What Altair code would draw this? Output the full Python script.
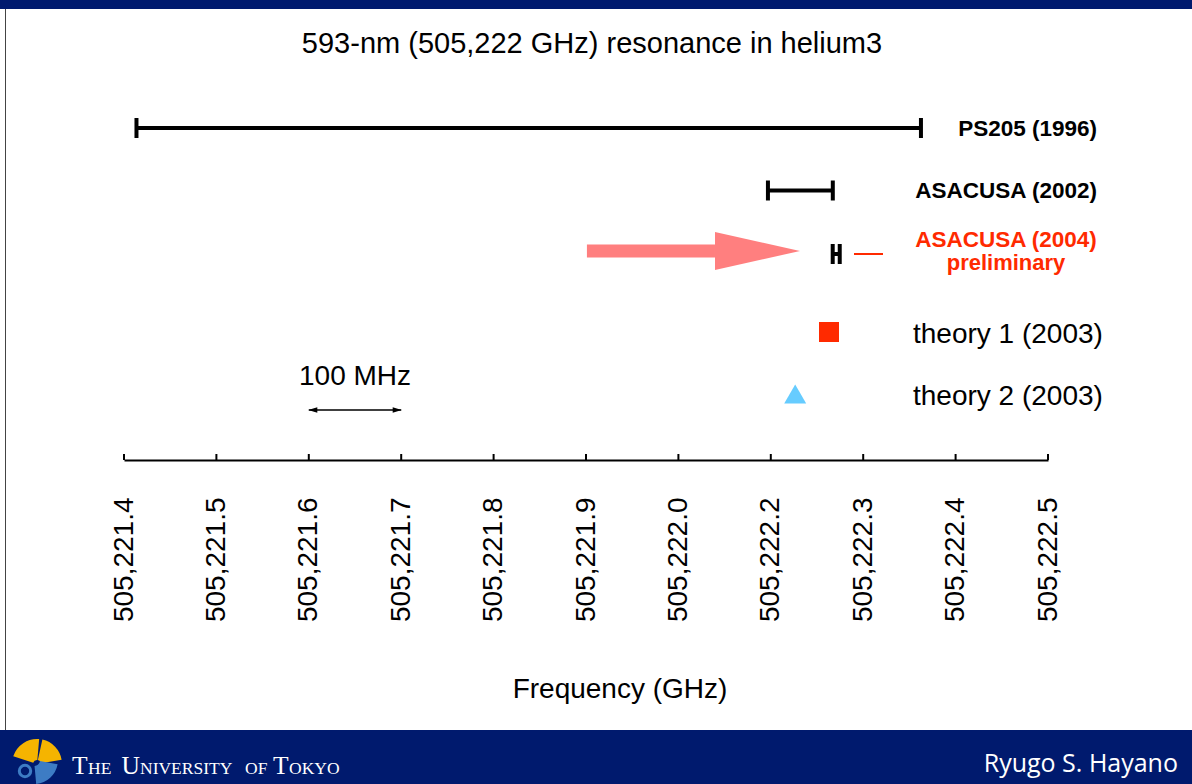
import json

import altair as alt
import pandas as pd

# ---------------------------------------------------------------------------
# Frequency axis: one tick every 100 MHz, labelled as printed on the slide
# ---------------------------------------------------------------------------
tick_mhz = [0, 100, 200, 300, 400, 500, 600, 700, 800, 900, 1000]  # MHz above 505,221.4 GHz
tick_labels = [
    "505,221.4", "505,221.5", "505,221.6", "505,221.7", "505,221.8", "505,221.9",
    "505,222.0", "505,222.2", "505,222.3", "505,222.4", "505,222.5",
]

# ---------------------------------------------------------------------------
# Results, top to bottom (MHz above 505,221.4 GHz)
# ---------------------------------------------------------------------------
rows = ["PS205 (1996)", "ASACUSA (2002)", "ASACUSA (2004)", "theory 1 (2003)", "theory 2 (2003)"]
centre_mhz = [438.0, 732.0, 770.8, 763.0, 726.4]
error_mhz = [424.5, 35.1, 3.8, 0.0, 0.0]

# annotation arrow pointing at the 2004 result, and the 100 MHz scale bar
arrow_tail_mhz = 501.0
arrow_tip_mhz = 731.6
scale_bar_mhz = [200, 300]

SANS = "Liberation Sans"
SERIF = "Liberation Serif"
NAVY = "#001a6e"
RED = "#ff2a00"
PINK = "#ff7f7f"
CYAN = "#66ccff"
GOLD = "#f5b400"
BLUE = "#3d7cc4"

table = pd.DataFrame({"row": list(range(len(rows))), "name": rows,
                      "centre": centre_mhz, "err": error_mhz})
table["lo"] = table["centre"] - table["err"]
table["hi"] = table["centre"] + table["err"]
measured = table.iloc[:3]
ONE = pd.DataFrame({"k": [0]})

x_scale = alt.Scale(domain=[0, 1000], range=[124, 1048], nice=False, zero=False)
y_scale = alt.Scale(domain=[0, 1, 2, 3, 4], range=[128, 190.5, 254, 332, 394],
                    nice=False, zero=False)

label_expr = f"{json.dumps(tick_labels)}[round(datum.value / 100)]"
x_axis = alt.Axis(
    values=tick_mhz, labelExpr=label_expr, labelAngle=270, labelFont=SANS,
    labelFontSize=28, labelColor="black", labelPadding=37, labelOverlap=False,
    labelFlush=False, ticks=False, tickSize=0, domainColor="black",
    domainWidth=2, grid=False, title=None,
)


def X(field):
    return alt.X(f"{field}:Q", scale=x_scale, axis=x_axis)


Y = alt.Y("row:Q", scale=y_scale, axis=None)

# ---------------------------------------------------------------------------
# Slide frame: banners, side rule, footer
# ---------------------------------------------------------------------------
top_banner = alt.Chart(ONE).mark_rect(color=NAVY).encode(
    x=alt.value(0), x2=alt.value(1192), y=alt.value(0), y2=alt.value(9))
bottom_banner = alt.Chart(ONE).mark_rect(color=NAVY).encode(
    x=alt.value(0), x2=alt.value(1192), y=alt.value(730), y2=alt.value(784))
side_rule = alt.Chart(ONE).mark_rule(color="#444444", strokeWidth=1).encode(
    x=alt.value(5.5), y=alt.value(9), y2=alt.value(730))

# ginkgo-leaf emblem: golden fan with a notch, blue lower lobe and ring
leaf_left = alt.Chart(ONE).mark_arc(color=GOLD, radius=25, radius2=4,
                                    theta=5.03, theta2=6.37).encode(
    x=alt.value(37), y=alt.value(764))
leaf_right = alt.Chart(ONE).mark_arc(color=GOLD, radius=25, radius2=4,
                                     theta=6.50, theta2=7.68).encode(
    x=alt.value(37), y=alt.value(764))
leaf_blue = alt.Chart(ONE).mark_arc(color=BLUE, radius=24, radius2=6,
                                    theta=1.75, theta2=3.05).encode(
    x=alt.value(34), y=alt.value(760))
leaf_ring = alt.Chart(ONE).mark_point(shape="circle", size=130, filled=False,
                                      color=BLUE, strokeWidth=3, opacity=1).encode(
    x=alt.value(25), y=alt.value(771))

# small-capital wordmark: (text, left edge, font size)
wordmark = [("T", 72, 25.5), ("HE", 88, 17.5), ("U", 121.5, 25.5), ("NIVERSITY", 140, 17.5),
            ("OF", 245, 17.5), ("T", 273, 25.5), ("OKYO", 289, 17.5)]
wordmark_layers = [
    alt.Chart(ONE).mark_text(text=t, align="left", baseline="alphabetic", font=SERIF,
                             fontSize=s, color="white").encode(
        x=alt.value(x0), y=alt.value(774))
    for t, x0, s in wordmark
]
author = alt.Chart(ONE).mark_text(text="Ryugo S. Hayano", align="right", baseline="alphabetic",
                                  font="Open Sans", fontSize=25, color="white").encode(
    x=alt.value(1178), y=alt.value(772))

# ---------------------------------------------------------------------------
# Titles
# ---------------------------------------------------------------------------
title = alt.Chart(ONE).mark_text(text="593-nm (505,222 GHz) resonance in helium3",
                                 align="center", baseline="alphabetic", font=SANS,
                                 fontSize=29, color="black").encode(
    x=alt.value(592), y=alt.value(53))
x_title = alt.Chart(ONE).mark_text(text="Frequency (GHz)", align="center",
                                   baseline="alphabetic", font=SANS, fontSize=28,
                                   color="black").encode(
    x=alt.value(620), y=alt.value(698))

# ---------------------------------------------------------------------------
# Axis ticks (pointing up into the plot)
# ---------------------------------------------------------------------------
ticks = alt.Chart(pd.DataFrame({"tick": tick_mhz})).mark_rule(
    color="black", strokeWidth=2).encode(x=X("tick"), y=alt.value(454), y2=alt.value(460))

# ---------------------------------------------------------------------------
# Annotation arrow towards the 2004 measurement
# ---------------------------------------------------------------------------
arrow_df = pd.DataFrame({"row": [2], "tail": [arrow_tail_mhz], "tip": [arrow_tip_mhz]})
arrow_base = alt.Chart(arrow_df).transform_calculate(
    base="datum.tip - 92", mid="datum.tip - 46")
arrow_shaft = arrow_base.mark_rule(color=PINK, strokeWidth=13, strokeCap="butt",
                                   yOffset=-3).encode(x=X("tail"), x2="base:Q", y=Y)
arrow_head = arrow_base.mark_point(shape="M-1,-0.447L1,0L-1,0.447Z", filled=True,
                                   size=7225, color=PINK, opacity=1, strokeWidth=0,
                                   yOffset=-3).encode(x=X("mid"), y=Y)

# ---------------------------------------------------------------------------
# Measurements with error bars, theory points
# ---------------------------------------------------------------------------
err_line = alt.Chart(measured).mark_rule(color="black", strokeWidth=4).encode(
    x=X("lo"), x2="hi:Q", y=Y)
err_caps = alt.Chart(measured).transform_fold(["lo", "hi"], as_=["end", "pos"]).mark_tick(
    orient="vertical", size=20, thickness=4, color="black", opacity=1).encode(
    x=X("pos"), y=Y)
pointer_2004 = alt.Chart(table[table["row"] == 2]).mark_rule(color=RED, strokeWidth=2).encode(
    x=alt.value(854), x2=alt.value(883), y=Y)
theory1 = alt.Chart(table[table["row"] == 3]).mark_square(size=400, color=RED, opacity=1).encode(
    x=X("centre"), y=Y)
theory2 = alt.Chart(table[table["row"] == 4]).mark_point(
    shape="triangle-up", filled=True, size=484, color=CYAN, opacity=1, strokeWidth=0).encode(
    x=X("centre"), y=Y)

# row labels
label_bold = alt.Chart(table.iloc[:2]).mark_text(
    align="right", baseline="alphabetic", font=SANS, fontSize=22.5, fontWeight="bold",
    color="black", dy=7.5).encode(x=alt.value(1097), y=Y, text="name:N")
label_2004 = alt.Chart(table.iloc[2:3]).mark_text(
    align="center", baseline="alphabetic", font=SANS, fontSize=22.5, fontWeight="bold",
    color=RED, dy=-7.5).encode(x=alt.value(1006), y=Y, text="name:N")
label_prelim = alt.Chart(table.iloc[2:3]).mark_text(
    text="preliminary", align="center", baseline="alphabetic", font=SANS, fontSize=22,
    fontWeight="bold", color=RED, dy=16).encode(x=alt.value(1006), y=Y)
label_theory = alt.Chart(table.iloc[3:]).mark_text(
    align="left", baseline="alphabetic", font=SANS, fontSize=28, color="black",
    dy=10.8).encode(x=alt.value(913), y=Y, text="name:N")

# ---------------------------------------------------------------------------
# 100 MHz scale bar
# ---------------------------------------------------------------------------
bar_df = pd.DataFrame({"a": [scale_bar_mhz[0]], "b": [scale_bar_mhz[1]]})
bar_base = alt.Chart(bar_df)
bar_line = bar_base.mark_rule(color="black", strokeWidth=1.5).encode(
    x=X("a"), x2="b:Q", y=alt.value(410))
bar_head_l = bar_base.mark_point(shape="M-1,0L1,-0.6L1,0.6Z", filled=True, size=81,
                                 color="black", opacity=1, strokeWidth=0, xOffset=4).encode(
    x=X("a"), y=alt.value(410))
bar_head_r = bar_base.mark_point(shape="M1,0L-1,-0.6L-1,0.6Z", filled=True, size=81,
                                 color="black", opacity=1, strokeWidth=0, xOffset=-4).encode(
    x=X("b"), y=alt.value(410))
bar_text = bar_base.transform_calculate(mid="(datum.a + datum.b) / 2").mark_text(
    text="100 MHz", align="center", baseline="alphabetic", font=SANS, fontSize=28,
    color="black").encode(x=X("mid"), y=alt.value(385))

chart = alt.layer(
    top_banner, bottom_banner, side_rule,
    leaf_left, leaf_right, leaf_blue, leaf_ring, *wordmark_layers, author,
    title, x_title, ticks,
    arrow_shaft, arrow_head,
    err_line, err_caps, pointer_2004, theory1, theory2,
    label_bold, label_2004, label_prelim, label_theory,
    bar_line, bar_head_l, bar_head_r, bar_text,
).properties(
    width=1192, height=460, autosize="none",
    padding={"left": 0, "top": 0, "right": 0, "bottom": 324},
).configure(background="white").configure_view(stroke=None)

chart.save("out.html", embed_options={"renderer": "svg", "actions": False})
